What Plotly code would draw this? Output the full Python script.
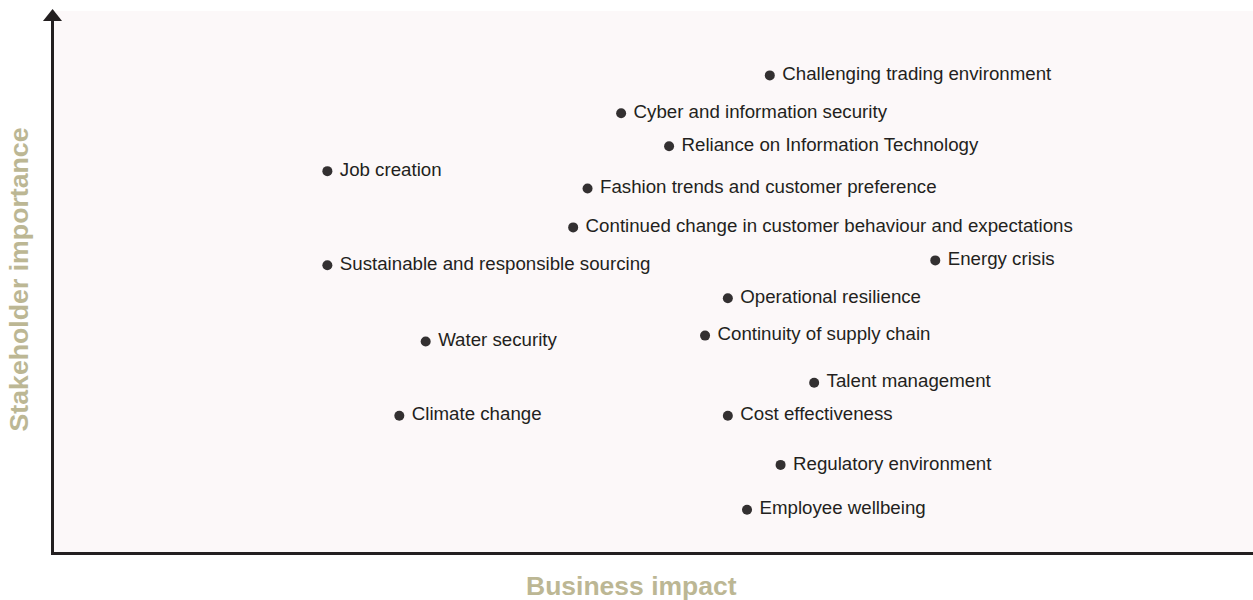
import plotly.graph_objects as go

# Materiality matrix data (business impact 0-100, stakeholder importance 0-100)
topics = [
    "Challenging trading environment",
    "Cyber and information security",
    "Reliance on Information Technology",
    "Job creation",
    "Fashion trends and customer preference",
    "Continued change in customer behaviour and expectations",
    "Sustainable and responsible sourcing",
    "Energy crisis",
    "Operational resilience",
    "Continuity of supply chain",
    "Water security",
    "Talent management",
    "Climate change",
    "Cost effectiveness",
    "Regulatory environment",
    "Employee wellbeing",
]
business_impact = [59.7, 47.3, 51.3, 22.8, 44.5, 43.3, 22.8, 73.5,
                   56.2, 54.3, 31.0, 63.4, 28.8, 56.2, 60.6, 57.8]
stakeholder_importance = [88.1, 81.1, 75.0, 70.4, 67.2, 60.0, 53.0, 53.9,
                          46.9, 40.0, 38.9, 31.3, 25.2, 25.2, 16.1, 7.8]

TEXT = "#231f20"
TITLE = "#bcb794"
BG = "#fcf8f9"
FONT = "Arial, 'Liberation Sans', Helvetica, sans-serif"

labels = ["\u00a0" + t for t in topics]

fig = go.Figure()
fig.add_trace(go.Scatter(
    x=business_impact,
    y=stakeholder_importance,
    mode="markers+text",
    text=labels,
    hovertext=topics,
    textposition="middle right",
    textfont=dict(family=FONT, size=18.7, color=TEXT),
    marker=dict(size=10, color="#333031", line=dict(width=0)),
    hoverinfo="text",
    showlegend=False,
    cliponaxis=False,
))

axis_common = dict(
    showgrid=False, zeroline=False, showticklabels=False, ticks="",
    showline=True, linecolor=TEXT, linewidth=3, fixedrange=True,
)

fig.update_layout(
    width=1253, height=600,
    margin=dict(l=54, r=0, t=11, b=48),
    paper_bgcolor="white",
    plot_bgcolor=BG,
    xaxis=dict(range=[0, 100], **axis_common),
    yaxis=dict(range=[0, 100], **axis_common),
    font=dict(family=FONT, color=TEXT),
    shapes=[
        dict(type="path", xref="paper", yref="paper",
             path="M -0.0092,0.9815 L 0.0067,0.9815 L -0.0012,1.0037 Z",
             fillcolor=TEXT, line=dict(width=0)),
    ],
    annotations=[
        dict(text="<b>Business impact</b>", xref="paper", yref="paper",
             x=(631 - 54) / 1199, y=-(586 - 552) / 540,
             xanchor="center", yanchor="middle", showarrow=False,
             font=dict(family=FONT, size=26.5, color=TITLE)),
        dict(text="<b>Stakeholder importance</b>", xref="paper", yref="paper",
             x=-(54 - 19) / 1199, y=(552 - 280) / 540, textangle=-90,
             xanchor="center", yanchor="middle", showarrow=False,
             font=dict(family=FONT, size=26.7, color=TITLE)),
    ],
)

fig.write_html(
    "out.html",
    config={"displayModeBar": False},
    post_script="document.body.style.margin='0';document.body.style.overflow='hidden';",
)
